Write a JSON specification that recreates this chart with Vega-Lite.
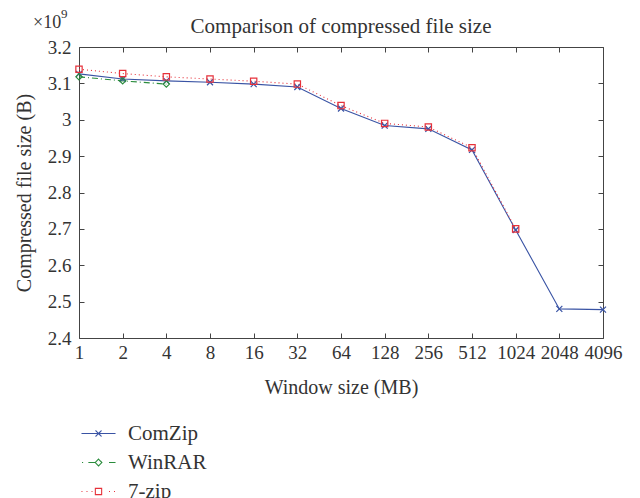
{
  "$schema": "https://vega.github.io/schema/vega-lite/v6.json",
  "width": 524,
  "height": 291,
  "autosize": {"type": "none"},
  "padding": {"left": 79, "top": 47, "right": 37, "bottom": 160},
  "background": "white",
  "title": {"text": "Comparison of compressed file size", "font": "Liberation Serif", "fontSize": 21, "fontWeight": "normal", "color": "#333333", "offset": 0, "dy": 29, "anchor": "middle"},
  "config": {
    "view": {"stroke": "#444444", "strokeWidth": 1},
    "axis": {"grid": false, "domain": false, "tickSize": -5, "tickColor": "#444444", "tickWidth": 1, "labelFont": "Liberation Serif", "labelFontSize": 19, "labelColor": "#333333", "titleFont": "Liberation Serif", "titleFontSize": 20, "titleFontWeight": "normal", "titleColor": "#333333", "labelOverlap": false, "labelFlush": false, "labelBound": false},
    "legend": {"title": null, "padding": 0, "symbolSize": 225, "symbolStrokeWidth": 1.1, "labelFont": "Liberation Serif", "labelFontSize": 21, "labelColor": "#333333", "labelOffset": 19, "rowPadding": 7}
  },
  "data": {"values": [
    {"window": 1, "series": "ComZip", "size": 3126000000},
    {"window": 2, "series": "ComZip", "size": 3112000000},
    {"window": 4, "series": "ComZip", "size": 3107000000},
    {"window": 8, "series": "ComZip", "size": 3103000000},
    {"window": 16, "series": "ComZip", "size": 3098000000},
    {"window": 32, "series": "ComZip", "size": 3090000000},
    {"window": 64, "series": "ComZip", "size": 3031000000},
    {"window": 128, "series": "ComZip", "size": 2984000000},
    {"window": 256, "series": "ComZip", "size": 2975000000},
    {"window": 512, "series": "ComZip", "size": 2917000000},
    {"window": 1024, "series": "ComZip", "size": 2697000000},
    {"window": 2048, "series": "ComZip", "size": 2480000000},
    {"window": 4096, "series": "ComZip", "size": 2478000000},
    {"window": 1, "series": "WinRAR", "size": 3118000000},
    {"window": 2, "series": "WinRAR", "size": 3107000000},
    {"window": 4, "series": "WinRAR", "size": 3098000000},
    {"window": 1, "series": "7-zip", "size": 3139000000},
    {"window": 2, "series": "7-zip", "size": 3127000000},
    {"window": 4, "series": "7-zip", "size": 3118000000},
    {"window": 8, "series": "7-zip", "size": 3112000000},
    {"window": 16, "series": "7-zip", "size": 3106000000},
    {"window": 32, "series": "7-zip", "size": 3098000000},
    {"window": 64, "series": "7-zip", "size": 3039000000},
    {"window": 128, "series": "7-zip", "size": 2990000000},
    {"window": 256, "series": "7-zip", "size": 2980000000},
    {"window": 512, "series": "7-zip", "size": 2923000000},
    {"window": 1024, "series": "7-zip", "size": 2700000000}
  ]},
  "layer": [
    {
      "transform": [{"filter": "datum.series === 'ComZip'"}],
      "mark": {"type": "line", "strokeWidth": 1.1},
      "encoding": {
        "x": {"field": "window", "type": "quantitative", "scale": {"type": "log", "base": 2, "domain": [1, 4096]},
              "axis": {"orient": "bottom", "values": [1,2,4,8,16,32,64,128,256,512,1024,2048,4096], "format": "d", "labelPadding": 10, "title": "Window size (MB)", "titlePadding": 15}},
        "y": {"field": "size", "type": "quantitative", "scale": {"domain": [2400000000, 3200000000], "zero": false, "nice": false},
              "axis": {"orient": "left", "values": [2400000000,2500000000,2600000000,2700000000,2800000000,2900000000,3000000000,3100000000,3200000000], "labelExpr": "format(datum.value/1e9, '~g')", "labelPadding": 13, "title": "Compressed file size (B)", "titlePadding": 13}},
        "color": {"field": "series", "type": "nominal", "scale": {"domain": ["ComZip", "WinRAR", "7-zip"], "range": ["#3953a4", "#2a8c3c", "#e6313a"]},
                  "legend": {"orient": "none", "legendX": 9, "legendY": 376,
                    "encode": {"symbols": {"update": {
                      "shape": {"signal": "datum.value === 'ComZip' ? 'M-2.27,0H2.27M-0.4,-0.4L0.4,0.4M-0.4,0.4L0.4,-0.4' : datum.value === 'WinRAR' ? 'M-2.2,0H-2.05M-1.35,0H-0.45M0,-0.45L0.45,0L0,0.45L-0.45,0ZM1.4,0H2.27' : 'M-2.27,0h0.13M-1.6,0h0.13M-0.93,0h0.13M-0.42,-0.42H0.42V0.42H-0.42ZM1.4,0h0.13M2.07,0h0.13'"},
                      "fill": {"value": "transparent"},
                      "strokeDash": {"value": [1, 0]},
                      "opacity": {"value": 1}
                    }}}}}
      }
    },
    {
      "transform": [{"filter": "datum.series === 'WinRAR'"}],
      "mark": {"type": "line", "strokeWidth": 1.1, "strokeDash": [6, 3, 1, 3]},
      "encoding": {
        "x": {"field": "window", "type": "quantitative", "scale": {"type": "log", "base": 2, "domain": [1, 4096]}, "axis": null},
        "y": {"field": "size", "type": "quantitative", "scale": {"domain": [2400000000, 3200000000], "zero": false, "nice": false}, "axis": null},
        "color": {"field": "series", "type": "nominal", "scale": {"domain": ["ComZip", "WinRAR", "7-zip"], "range": ["#3953a4", "#2a8c3c", "#e6313a"]},
                  "legend": {"orient": "none", "legendX": 9, "legendY": 376,
                    "encode": {"symbols": {"update": {
                      "shape": {"signal": "datum.value === 'ComZip' ? 'M-2.27,0H2.27M-0.4,-0.4L0.4,0.4M-0.4,0.4L0.4,-0.4' : datum.value === 'WinRAR' ? 'M-2.2,0H-2.05M-1.35,0H-0.45M0,-0.45L0.45,0L0,0.45L-0.45,0ZM1.4,0H2.27' : 'M-2.27,0h0.13M-1.6,0h0.13M-0.93,0h0.13M-0.42,-0.42H0.42V0.42H-0.42ZM1.4,0h0.13M2.07,0h0.13'"},
                      "fill": {"value": "transparent"},
                      "strokeDash": {"value": [1, 0]},
                      "opacity": {"value": 1}
                    }}}}}
      }
    },
    {
      "transform": [{"filter": "datum.series === '7-zip'"}],
      "mark": {"type": "line", "strokeWidth": 1.1, "strokeDash": [1, 3]},
      "encoding": {
        "x": {"field": "window", "type": "quantitative", "scale": {"type": "log", "base": 2, "domain": [1, 4096]}, "axis": null},
        "y": {"field": "size", "type": "quantitative", "scale": {"domain": [2400000000, 3200000000], "zero": false, "nice": false}, "axis": null},
        "color": {"field": "series", "type": "nominal", "scale": {"domain": ["ComZip", "WinRAR", "7-zip"], "range": ["#3953a4", "#2a8c3c", "#e6313a"]},
                  "legend": {"orient": "none", "legendX": 9, "legendY": 376,
                    "encode": {"symbols": {"update": {
                      "shape": {"signal": "datum.value === 'ComZip' ? 'M-2.27,0H2.27M-0.4,-0.4L0.4,0.4M-0.4,0.4L0.4,-0.4' : datum.value === 'WinRAR' ? 'M-2.2,0H-2.05M-1.35,0H-0.45M0,-0.45L0.45,0L0,0.45L-0.45,0ZM1.4,0H2.27' : 'M-2.27,0h0.13M-1.6,0h0.13M-0.93,0h0.13M-0.42,-0.42H0.42V0.42H-0.42ZM1.4,0h0.13M2.07,0h0.13'"},
                      "fill": {"value": "transparent"},
                      "strokeDash": {"value": [1, 0]},
                      "opacity": {"value": 1}
                    }}}}}
      }
    },
    {
      "transform": [{"filter": "datum.series === 'ComZip'"}],
      "mark": {"type": "point", "filled": false, "strokeWidth": 1.2, "size": 36, "opacity": 1, "shape": "M-1,-1L1,1M-1,1L1,-1"},
      "encoding": {
        "x": {"field": "window", "type": "quantitative", "scale": {"type": "log", "base": 2, "domain": [1, 4096]},
              "axis": {"orient": "top", "values": [1,2,4,8,16,32,64,128,256,512,1024,2048,4096], "labels": false, "title": null}},
        "y": {"field": "size", "type": "quantitative", "scale": {"domain": [2400000000, 3200000000], "zero": false, "nice": false},
              "axis": {"orient": "right", "values": [2400000000,2500000000,2600000000,2700000000,2800000000,2900000000,3000000000,3100000000,3200000000], "labels": false, "title": null}},
        "color": {"field": "series", "type": "nominal", "scale": {"domain": ["ComZip", "WinRAR", "7-zip"], "range": ["#3953a4", "#2a8c3c", "#e6313a"]},
                  "legend": {"orient": "none", "legendX": 9, "legendY": 376,
                    "encode": {"symbols": {"update": {
                      "shape": {"signal": "datum.value === 'ComZip' ? 'M-2.27,0H2.27M-0.4,-0.4L0.4,0.4M-0.4,0.4L0.4,-0.4' : datum.value === 'WinRAR' ? 'M-2.2,0H-2.05M-1.35,0H-0.45M0,-0.45L0.45,0L0,0.45L-0.45,0ZM1.4,0H2.27' : 'M-2.27,0h0.13M-1.6,0h0.13M-0.93,0h0.13M-0.42,-0.42H0.42V0.42H-0.42ZM1.4,0h0.13M2.07,0h0.13'"},
                      "fill": {"value": "transparent"},
                      "strokeDash": {"value": [1, 0]},
                      "opacity": {"value": 1}
                    }}}}}
      }
    },
    {
      "transform": [{"filter": "datum.series === 'WinRAR'"}],
      "mark": {"type": "point", "filled": false, "strokeWidth": 1.2, "size": 40, "opacity": 1, "shape": "diamond"},
      "encoding": {
        "x": {"field": "window", "type": "quantitative", "scale": {"type": "log", "base": 2, "domain": [1, 4096]}, "axis": null},
        "y": {"field": "size", "type": "quantitative", "scale": {"domain": [2400000000, 3200000000], "zero": false, "nice": false}, "axis": null},
        "color": {"field": "series", "type": "nominal", "scale": {"domain": ["ComZip", "WinRAR", "7-zip"], "range": ["#3953a4", "#2a8c3c", "#e6313a"]},
                  "legend": {"orient": "none", "legendX": 9, "legendY": 376,
                    "encode": {"symbols": {"update": {
                      "shape": {"signal": "datum.value === 'ComZip' ? 'M-2.27,0H2.27M-0.4,-0.4L0.4,0.4M-0.4,0.4L0.4,-0.4' : datum.value === 'WinRAR' ? 'M-2.2,0H-2.05M-1.35,0H-0.45M0,-0.45L0.45,0L0,0.45L-0.45,0ZM1.4,0H2.27' : 'M-2.27,0h0.13M-1.6,0h0.13M-0.93,0h0.13M-0.42,-0.42H0.42V0.42H-0.42ZM1.4,0h0.13M2.07,0h0.13'"},
                      "fill": {"value": "transparent"},
                      "strokeDash": {"value": [1, 0]},
                      "opacity": {"value": 1}
                    }}}}}
      }
    },
    {
      "transform": [{"filter": "datum.series === '7-zip'"}],
      "mark": {"type": "point", "filled": false, "strokeWidth": 1.2, "size": 40, "opacity": 1, "shape": "square"},
      "encoding": {
        "x": {"field": "window", "type": "quantitative", "scale": {"type": "log", "base": 2, "domain": [1, 4096]}, "axis": null},
        "y": {"field": "size", "type": "quantitative", "scale": {"domain": [2400000000, 3200000000], "zero": false, "nice": false}, "axis": null},
        "color": {"field": "series", "type": "nominal", "scale": {"domain": ["ComZip", "WinRAR", "7-zip"], "range": ["#3953a4", "#2a8c3c", "#e6313a"]},
                  "legend": {"orient": "none", "legendX": 9, "legendY": 376,
                    "encode": {"symbols": {"update": {
                      "shape": {"signal": "datum.value === 'ComZip' ? 'M-2.27,0H2.27M-0.4,-0.4L0.4,0.4M-0.4,0.4L0.4,-0.4' : datum.value === 'WinRAR' ? 'M-2.2,0H-2.05M-1.35,0H-0.45M0,-0.45L0.45,0L0,0.45L-0.45,0ZM1.4,0H2.27' : 'M-2.27,0h0.13M-1.6,0h0.13M-0.93,0h0.13M-0.42,-0.42H0.42V0.42H-0.42ZM1.4,0h0.13M2.07,0h0.13'"},
                      "fill": {"value": "transparent"},
                      "strokeDash": {"value": [1, 0]},
                      "opacity": {"value": 1}
                    }}}}}
      }
    },
    {
      "data": {"values": [{"label": "×10"}]},
      "mark": {"type": "text", "font": "Liberation Serif", "fontSize": 18, "color": "#333333", "align": "left", "baseline": "alphabetic", "dx": -46, "dy": -19},
      "encoding": {
        "text": {"field": "label"},
        "x": {"datum": 1, "type": "quantitative", "scale": {"type": "log", "base": 2, "domain": [1, 4096]}, "axis": null},
        "y": {"datum": 3200000000, "type": "quantitative", "scale": {"domain": [2400000000, 3200000000], "zero": false, "nice": false}, "axis": null}
      }
    },
    {
      "data": {"values": [{"label": "9"}]},
      "mark": {"type": "text", "font": "Liberation Serif", "fontSize": 13, "color": "#333333", "align": "left", "baseline": "alphabetic", "dx": -18, "dy": -29},
      "encoding": {
        "text": {"field": "label"},
        "x": {"datum": 1, "type": "quantitative", "scale": {"type": "log", "base": 2, "domain": [1, 4096]}, "axis": null},
        "y": {"datum": 3200000000, "type": "quantitative", "scale": {"domain": [2400000000, 3200000000], "zero": false, "nice": false}, "axis": null}
      }
    }
  ],
  "resolve": {"axis": {"x": "independent", "y": "independent"}}
}
